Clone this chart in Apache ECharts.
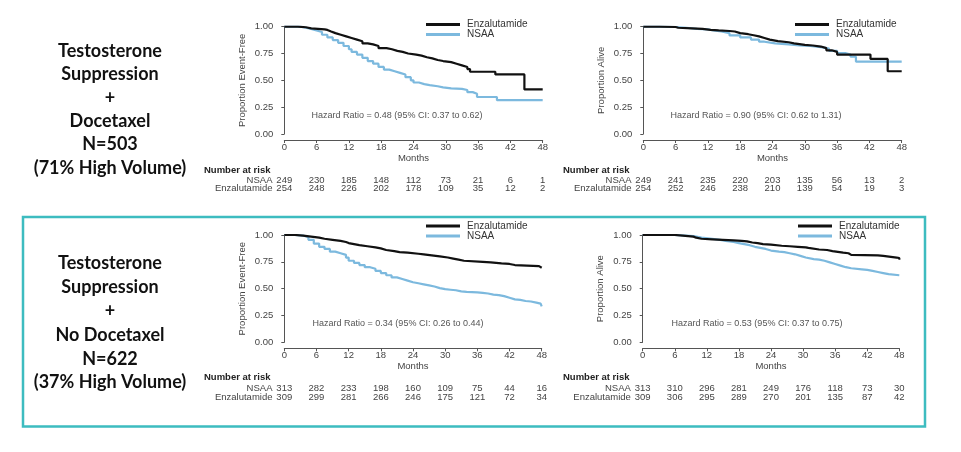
<!DOCTYPE html>
<html>
<head>
<meta charset="utf-8">
<script src="https://cdn.jsdelivr.net/npm/echarts@6/dist/echarts.min.js"></script>
<style>
html,body{margin:0;padding:0;background:#fff;}
#chart{width:961px;height:452px;}
</style>
</head>
<body>
<div id="chart"></div>
<script>
// ---------- DATA ----------
const monthTicks = [0, 6, 12, 18, 24, 30, 36, 42, 48];

// Panel A: Testosterone suppression + docetaxel, event-free
const efsDocEnza = [[0,1],[2.5,0.995],[4,0.985],[5,0.975],[7.5,0.97],[8,0.955],[8.7,0.94],[9.5,0.925],[10.5,0.91],[11.5,0.895],[12.5,0.88],[13.5,0.865],[14.5,0.845],[15.5,0.835],[16.5,0.82],[17.5,0.80],[19,0.79],[20,0.775],[21,0.765],[22,0.75],[23,0.74],[24.5,0.73],[25.5,0.715],[26.5,0.705],[27.5,0.69],[28.5,0.68],[29.5,0.67],[31,0.655],[32,0.64],[33,0.625],[34,0.605],[34.5,0.58],[39.2,0.555],[44.6,0.415],[48,0.415]];
const efsDocNsaa = [[0,1],[3,0.99],[4,0.98],[5,0.965],[6,0.95],[7,0.925],[8,0.9],[9,0.875],[10,0.85],[11,0.82],[12,0.79],[12.5,0.765],[13.5,0.74],[14.5,0.71],[15.5,0.68],[16.5,0.655],[17.5,0.625],[18.5,0.6],[19.5,0.585],[20.5,0.57],[21.5,0.555],[22.5,0.53],[23.5,0.5],[24,0.48],[25,0.465],[26,0.455],[27,0.445],[28.5,0.435],[29.5,0.425],[31,0.42],[33,0.41],[34,0.39],[35,0.375],[35.8,0.345],[39.5,0.315],[48,0.315]];
const riskEfsDocNsaa = [249, 230, 185, 148, 112, 73, 21, 6, 1];
const riskEfsDocEnza = [254, 248, 226, 202, 178, 109, 35, 12, 2];

// Panel B: Testosterone suppression + docetaxel, overall survival
const osDocEnza = [[0,1],[3,0.997],[6,0.99],[6.5,0.985],[9,0.98],[11,0.97],[12.5,0.965],[14,0.96],[16,0.955],[17,0.94],[18,0.93],[19.5,0.92],[20.5,0.91],[21.5,0.895],[22.5,0.88],[23.5,0.865],[25,0.855],[27,0.845],[28,0.83],[30,0.825],[31.5,0.815],[33,0.8],[34,0.78],[35,0.765],[36,0.74],[42.2,0.70],[45.4,0.585],[48,0.585]];
const osDocNsaa = [[0,1],[3,0.997],[6,0.99],[8,0.98],[10,0.975],[12,0.965],[13,0.955],[14.5,0.94],[16,0.92],[18,0.9],[20,0.88],[21.5,0.86],[22.5,0.845],[24.5,0.835],[27,0.825],[29,0.82],[31,0.81],[33,0.795],[34.5,0.775],[36,0.755],[37.5,0.74],[38.5,0.72],[39.5,0.675],[48,0.675]];
const riskOsDocNsaa = [249, 241, 235, 220, 203, 135, 56, 13, 2];
const riskOsDocEnza = [254, 252, 246, 238, 210, 139, 54, 19, 3];

// Panel C: Testosterone suppression + no docetaxel, event-free
const efsNoDocEnza = [[0,1],[2,0.995],[3.5,0.985],[5,0.975],[6.5,0.965],[7.5,0.955],[9,0.945],[10.5,0.935],[11.5,0.925],[12,0.915],[13,0.905],[14,0.895],[15.5,0.885],[17,0.875],[18,0.86],[19,0.85],[20.5,0.84],[21.5,0.835],[23,0.825],[25,0.82],[26,0.81],[27.5,0.8],[29,0.79],[30.5,0.78],[31.5,0.77],[32.5,0.76],[33.5,0.75],[37,0.745],[38.5,0.735],[40.5,0.73],[42,0.72],[43,0.71],[47.5,0.695],[48,0.69]];
const efsNoDocNsaa = [[0,1],[2,0.995],[3.5,0.98],[4.5,0.955],[5.5,0.92],[6.5,0.89],[7.5,0.87],[8.5,0.845],[9.5,0.83],[10.5,0.815],[11.5,0.79],[12,0.76],[13,0.74],[14,0.72],[15,0.70],[16,0.685],[17,0.665],[18,0.645],[19,0.625],[20,0.605],[21,0.59],[22,0.575],[23,0.56],[24,0.55],[25,0.54],[26,0.53],[27,0.52],[28,0.505],[29,0.495],[30,0.49],[31,0.485],[32,0.475],[33,0.47],[34,0.465],[36,0.46],[37,0.455],[38,0.445],[39,0.44],[40,0.43],[41,0.415],[42,0.40],[43,0.395],[44,0.385],[45,0.38],[46,0.37],[47,0.36],[47.8,0.35],[48,0.335]];
const riskEfsNoDocNsaa = [313, 282, 233, 198, 160, 109, 75, 44, 16];
const riskEfsNoDocEnza = [309, 299, 281, 266, 246, 175, 121, 72, 34];

// Panel D: Testosterone suppression + no docetaxel, overall survival
const osNoDocEnza = [[0,1],[6,0.995],[7.5,0.99],[8.5,0.985],[9.5,0.975],[10,0.965],[11,0.96],[13,0.955],[15,0.95],[17,0.945],[18.5,0.94],[19.5,0.93],[20.5,0.925],[21.5,0.915],[22.5,0.91],[24,0.90],[26,0.895],[27.5,0.89],[29,0.885],[30.5,0.88],[31,0.865],[33,0.86],[34.5,0.85],[35.5,0.835],[37.5,0.83],[38.5,0.815],[39,0.81],[44,0.805],[45,0.79],[47.5,0.785],[48,0.77]];
const osNoDocNsaa = [[0,1],[6,0.995],[8,0.99],[9.5,0.975],[11,0.965],[13,0.955],[14.5,0.945],[15.5,0.935],[17,0.925],[18,0.915],[19,0.905],[20,0.89],[21,0.88],[22,0.87],[23,0.855],[24,0.845],[25.5,0.84],[26.5,0.83],[27.5,0.82],[28.5,0.805],[29.5,0.79],[30.5,0.775],[32,0.77],[33,0.76],[34,0.745],[35,0.73],[36,0.715],[37,0.70],[38,0.69],[39,0.68],[41,0.675],[42,0.665],[43,0.655],[44,0.645],[45,0.635],[46,0.625],[48,0.62]];
const riskOsNoDocNsaa = [313, 310, 296, 281, 249, 176, 118, 73, 30];
const riskOsNoDocEnza = [309, 306, 295, 289, 270, 201, 135, 87, 42];

const hazardTexts = [
  'Hazard Ratio = 0.48 (95% CI: 0.37 to 0.62)',
  'Hazard Ratio = 0.90 (95% CI: 0.62 to 1.31)',
  'Hazard Ratio = 0.34 (95% CI: 0.26 to 0.44)',
  'Hazard Ratio = 0.53 (95% CI: 0.37 to 0.75)'
];
const yNames = ['Proportion Event-Free', 'Proportion Alive', 'Proportion Event-Free', 'Proportion Alive'];
const groupLabels = [
  'Testosterone\nSuppression\n+\nDocetaxel\nN=503\n(71% High Volume)',
  'Testosterone\nSuppression\n+\nNo Docetaxel\nN=622\n(37% High Volume)'
];
const seriesNames = ['Enzalutamide', 'NSAA'];

// ---------- LAYOUT ----------
const FONT = '"Liberation Sans", Arial, sans-serif';
const TXT = '#444';
const BLACK = '#111';
const BLUE = '#7cb9de';

const panels = [
  {grid:{left:284.3, top:26.7, width:258.4, height:107.3}, enza:efsDocEnza, nsaa:efsDocNsaa, rN:riskEfsDocNsaa, rE:riskEfsDocEnza, legend:{left:426, top:19.5}, nar:{x:204, y:170}, hr:{x:397, y:116}},
  {grid:{left:643.3, top:26.7, width:258.4, height:107.3}, enza:osDocEnza, nsaa:osDocNsaa, rN:riskOsDocNsaa, rE:riskOsDocEnza, legend:{left:795, top:19.5}, nar:{x:563, y:170}, hr:{x:756, y:116}},
  {grid:{left:284.3, top:235, width:257.4, height:107.3}, enza:efsNoDocEnza, nsaa:efsNoDocNsaa, rN:riskEfsNoDocNsaa, rE:riskEfsNoDocEnza, legend:{left:426, top:221}, nar:{x:204, y:377.5}, hr:{x:398, y:324}},
  {grid:{left:642.7, top:235, width:256.6, height:107.3}, enza:osNoDocEnza, nsaa:osNoDocNsaa, rN:riskOsNoDocNsaa, rE:riskOsNoDocEnza, legend:{left:798, top:221}, nar:{x:563, y:377.5}, hr:{x:757, y:324}}
];

const grids = [], xAxes = [], yAxes = [], series = [], legends = [], graphics = [];

panels.forEach((p, g) => {
  grids.push(Object.assign({containLabel:false}, p.grid));
  yAxes.push({
    type:'value', gridIndex:g, min:0, max:1, interval:0.25, offset:5,
    name:yNames[g], nameLocation:'middle', nameGap:32,
    nameTextStyle:{fontFamily:FONT, fontSize:9.5, color:TXT},
    axisLine:{show:true, lineStyle:{color:'#555', width:1}},
    axisTick:{show:true, length:3, lineStyle:{color:'#555'}},
    axisLabel:{fontFamily:FONT, fontSize:9.5, color:TXT, margin:6, formatter:v => v.toFixed(2)},
    splitLine:{show:false}
  });
  // main months axis
  xAxes.push({
    type:'value', gridIndex:g, position:'bottom', min:0, max:48, interval:6, offset:6,
    name:'Months', nameLocation:'middle', nameGap:13.5,
    nameTextStyle:{fontFamily:FONT, fontSize:9.5, color:TXT},
    axisLine:{show:true, onZero:false, lineStyle:{color:'#555', width:1}},
    axisTick:{show:true, length:3, lineStyle:{color:'#555'}},
    axisLabel:{fontFamily:FONT, fontSize:9.5, color:TXT, margin:2, showMinLabel:true, showMaxLabel:true},
    splitLine:{show:false}
  });
  // risk table rows
  [[p.rN, 'NSAA', 46.3], [p.rE, 'Enzalutamide', 54.6]].forEach(([arr, label, off]) => {
    xAxes.push({
      type:'value', gridIndex:g, position:'bottom', min:0, max:48, interval:6, offset:off,
      name:label, nameLocation:'start', nameGap:11,
      nameTextStyle:{fontFamily:FONT, fontSize:9.5, color:TXT, verticalAlign:'middle'},
      axisLine:{show:false, onZero:false}, axisTick:{show:false}, splitLine:{show:false},
      axisLabel:{fontFamily:FONT, fontSize:9.5, color:TXT, margin:0, verticalAlign:'middle',
        showMinLabel:true, showMaxLabel:true,
        formatter:v => { const i = monthTicks.indexOf(Math.round(v)); return i >= 0 ? String(arr[i]) : ''; }}
    });
  });
  const xi = g * 3;
  series.push({
    name:'NSAA', type:'line', step:'end', xAxisIndex:xi, yAxisIndex:g, data:p.nsaa,
    showSymbol:false, symbol:'none', color:BLUE, lineStyle:{color:BLUE, width:2.2}, z:2
  });
  series.push({
    name:'Enzalutamide', type:'line', step:'end', xAxisIndex:xi, yAxisIndex:g, data:p.enza,
    showSymbol:false, symbol:'none', color:BLACK, lineStyle:{color:BLACK, width:2.2}, z:3
  });
  legends.push({
    data:seriesNames, orient:'vertical', left:p.legend.left, top:p.legend.top,
    icon:'rect', itemWidth:34, itemHeight:3, itemGap:0, padding:0, selectedMode:false,
    textStyle:{fontFamily:FONT, fontSize:10, color:'#333', lineHeight:10, padding:[0,0,0,2]}
  });
  graphics.push({
    type:'text', x:p.hr.x, y:p.hr.y,
    style:{text:hazardTexts[g], fontFamily:FONT, fontSize:9, fill:'#555', align:'center', verticalAlign:'middle'}
  });
  graphics.push({
    type:'text', x:p.nar.x, y:p.nar.y,
    style:{text:'Number at risk', fontFamily:FONT, fontSize:9.5, fontWeight:'bold', fill:'#222', align:'left', verticalAlign:'middle'}
  });
});

// Group labels
graphics.push({type:'text', x:110, y:109.5, style:{text:groupLabels[0], fontFamily:'Lato, "Open Sans", sans-serif', fontWeight:'bold', fontSize:18, lineHeight:23.4, fill:'#111', align:'center', verticalAlign:'middle'}});
graphics.push({type:'text', x:110, y:323, style:{text:groupLabels[1], fontFamily:'Lato, "Open Sans", sans-serif', fontWeight:'bold', fontSize:18, lineHeight:23.8, fill:'#111', align:'center', verticalAlign:'middle'}});
// Highlight box around the second group
graphics.push({type:'rect', shape:{x:23, y:217, width:902, height:209.5}, style:{fill:null, stroke:'#3dbcc0', lineWidth:2.5}, z:-1});

const chart = echarts.init(document.getElementById('chart'), null, {renderer:'canvas'});
chart.setOption({
  animation:false,
  backgroundColor:'#fff',
  grid:grids, xAxis:xAxes, yAxis:yAxes, series:series, legend:legends, graphic:graphics,
  tooltip:{show:false}
});
</script>
</body>
</html>
